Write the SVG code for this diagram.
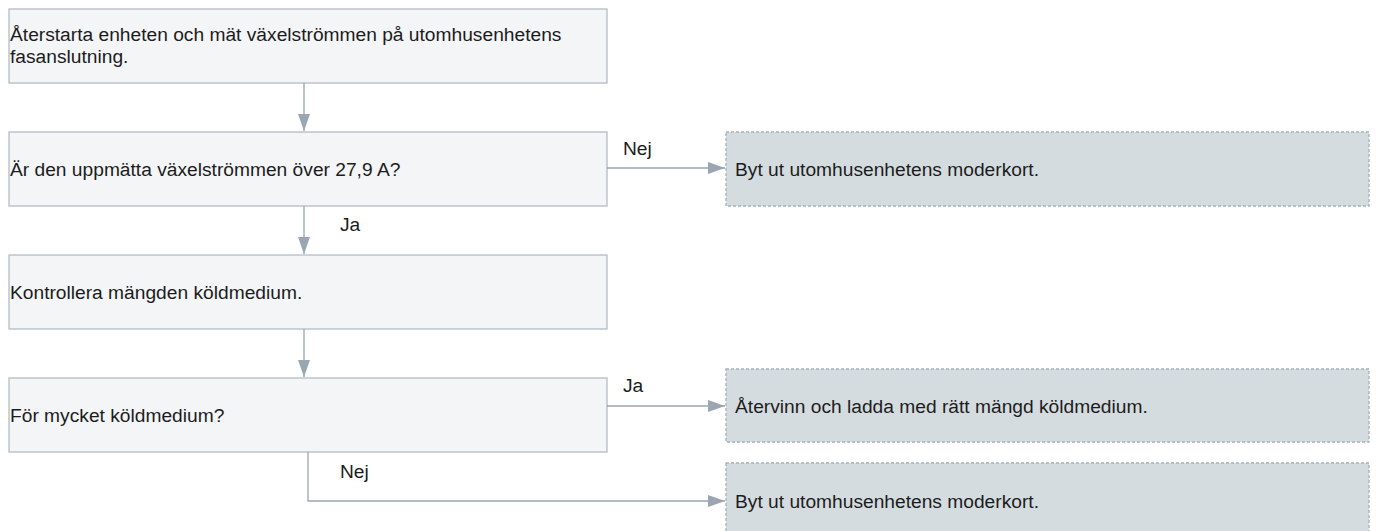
<svg xmlns="http://www.w3.org/2000/svg" width="1376" height="531" viewBox="0 0 1376 531">
  <defs>
    <marker id="arrow" viewBox="0 0 17 12" refX="17" refY="6" markerWidth="17" markerHeight="12" markerUnits="userSpaceOnUse" orient="auto">
      <path d="M0,0 L17,6 L0,12 Z" fill="#9aa6b1"/>
    </marker>
    <style>
      .step { fill: #f4f5f7; stroke: #b3bcc4; stroke-width: 1.3; }
      .end { fill: #d5dce0; stroke: #a7b1ba; stroke-width: 1.3; stroke-dasharray: 3 2; }
      .txt { font-family: "Liberation Sans", Arial, Helvetica, sans-serif; font-size: 19.2px; fill: #1c1c1c; }
      .conn { fill: none; stroke: #9aa6b1; stroke-width: 1.3; }
    </style>
  </defs>

  <rect width="1376" height="531" fill="#ffffff"/>

  <!-- process steps -->
  <g id="n1">
    <rect class="step" x="9" y="9" width="598" height="74"/>
    <text class="txt" x="10" y="41">Återstarta enheten och mät växelströmmen på utomhusenhetens</text>
    <text class="txt" x="10" y="63">fasanslutning.</text>
  </g>
  <g id="n2">
    <rect class="step" x="9" y="132" width="598" height="74"/>
    <text class="txt" x="10" y="176">Är den uppmätta växelströmmen över 27,9 A?</text>
  </g>
  <g id="n3">
    <rect class="step" x="9" y="255" width="598" height="74"/>
    <text class="txt" x="10" y="299">Kontrollera mängden köldmedium.</text>
  </g>
  <g id="n4">
    <rect class="step" x="9" y="378" width="598" height="74"/>
    <text class="txt" x="10" y="422">För mycket köldmedium?</text>
  </g>

  <!-- outcomes -->
  <g id="e1">
    <rect class="end" x="726" y="132" width="643" height="74"/>
    <text class="txt" x="735" y="176">Byt ut utomhusenhetens moderkort.</text>
  </g>
  <g id="e2">
    <rect class="end" x="726" y="369" width="643" height="73"/>
    <text class="txt" x="735" y="413">Återvinn och ladda med rätt mängd köldmedium.</text>
  </g>
  <g id="e3">
    <rect class="end" x="726" y="463" width="643" height="76"/>
    <text class="txt" x="735" y="508">Byt ut utomhusenhetens moderkort.</text>
  </g>

  <!-- connectors -->
  <g id="connectors">
    <path class="conn" d="M304,83 V131" marker-end="url(#arrow)"/>
    <path class="conn" d="M607,168 H725" marker-end="url(#arrow)"/>
    <path class="conn" d="M304,206 V254" marker-end="url(#arrow)"/>
    <path class="conn" d="M304,329 V377" marker-end="url(#arrow)"/>
    <path class="conn" d="M607,406 H725" marker-end="url(#arrow)"/>
    <path class="conn" d="M308,452 V501 H725" marker-end="url(#arrow)"/>
    <text class="txt" x="623" y="155">Nej</text>
    <text class="txt" x="340" y="231">Ja</text>
    <text class="txt" x="623" y="392">Ja</text>
    <text class="txt" x="340" y="478">Nej</text>
  </g>
</svg>
